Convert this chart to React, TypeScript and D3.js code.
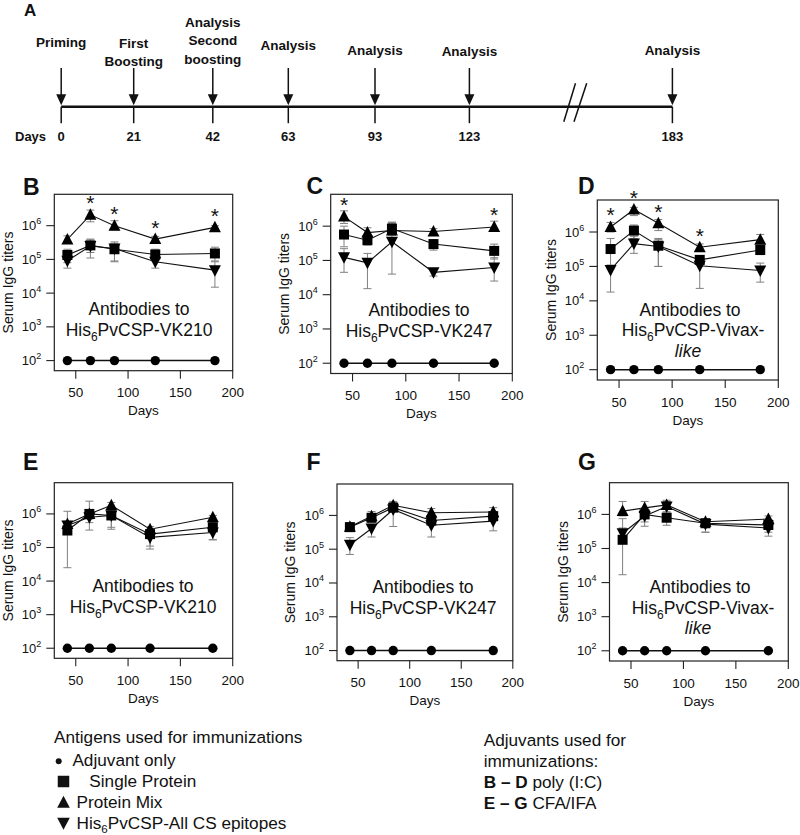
import React from "react";
import * as d3 from "d3";

const FONT = "'Liberation Sans', Arial, Helvetica, sans-serif";

// ---------- Panel A: immunization timeline ----------
const timelineDays = [0, 21, 42, 63, 93, 123, 183];
const timelineLabels = [
  ["Priming"],
  ["First", "Boosting"],
  ["Analysis", "Second", "boosting"],
  ["Analysis"],
  ["Analysis"],
  ["Analysis"],
  ["Analysis"],
];
// layout of the (broken) time axis
const timelineX = [61.2, 133.7, 212.8, 288.3, 375, 469.4, 672.4];
const timelineLabelY = [47, 47.5, 26.5, 50, 54.5, 56, 54.5];

// ---------- Panels B-G ----------
const daysBD = [42, 64, 87, 126, 183];
const daysEG = [42, 63, 84, 121, 181];
const xTickValues = [50, 100, 150, 200];
const yTickExponents = [2, 3, 4, 5, 6];
const adjuvantOnly = [100, 100, 100, 100, 100];

// B  (poly I:C, VK210)
const B_mix = [3.9e5, 2.1e6, 1.0e6, 4.0e5, 8.9e5];
const B_mix_lo = [3.0e5, 1.3e6, 7.5e5, 3.3e5, 8.0e5];
const B_mix_hi = [5.0e5, 2.9e6, 1.4e6, 4.8e5, 1.0e6];
const B_single = [1.35e5, 2.6e5, 2.0e5, 1.4e5, 1.5e5];
const B_single_lo = [8.0e4, 1.6e5, 8.5e4, 9.0e4, 9.0e4];
const B_single_hi = [2.0e5, 4.0e5, 3.3e5, 2.0e5, 2.3e5];
const B_all = [9.1e4, 2.5e5, 2.1e5, 8.5e4, 4.8e4];
const B_all_lo = [5.5e4, 1.1e5, 9.0e4, 5.5e4, 1.5e4];
const B_all_hi = [1.4e5, 3.8e5, 3.0e5, 1.2e5, 8.5e4];
const B_stars = [1, 2, 3, 4];

// C  (poly I:C, VK247)
const C_mix = [1.9e6, 6.5e5, 7.5e5, 7.0e5, 9.5e5];
const C_mix_lo = [1.2e6, 5.0e5, 5.5e5, 5.5e5, 7.0e5];
const C_mix_hi = [2.8e6, 9.0e5, 1.2e6, 8.5e5, 1.4e6];
const C_single = [5.7e5, 3.9e5, 8.5e5, 3.0e5, 1.9e5];
const C_single_lo = [2.5e5, 2.8e5, 5.5e5, 2.0e5, 1.1e5];
const C_single_hi = [1.0e6, 5.5e5, 1.3e6, 4.0e5, 3.0e5];
const C_all = [1.23e5, 8.5e4, 3.5e5, 4.5e4, 6.2e4];
const C_all_lo = [4.5e4, 1.5e4, 4.0e4, 3.5e4, 2.5e4];
const C_all_hi = [2.2e5, 1.6e5, 1.3e6, 5.5e4, 1.2e5];
const C_stars = [0, 4];

// D  (poly I:C, Vivax-like)
const D_mix = [1.4e6, 4.5e6, 1.8e6, 3.6e5, 6.0e5];
const D_mix_lo = [1.0e6, 3.0e6, 1.1e6, 2.8e5, 4.5e5];
const D_mix_hi = [1.9e6, 5.2e6, 2.3e6, 4.5e5, 8.5e5];
const D_single = [3.2e5, 1.1e6, 4.0e5, 1.55e5, 3.0e5];
const D_single_lo = [1.0e5, 6.5e5, 1.0e5, 1.1e5, 2.2e5];
const D_single_hi = [6.5e5, 1.6e6, 6.5e5, 2.0e5, 4.0e5];
const D_all = [7.9e4, 4.6e5, 3.8e5, 1.05e5, 7.6e4];
const D_all_lo = [1.8e4, 2.4e5, 1.0e5, 2.3e4, 3.5e4];
const D_all_hi = [1.1e5, 7.5e5, 6.0e5, 1.6e5, 1.25e5];
const D_stars = [0, 1, 2, 3];

// E  (CFA/IFA, VK210)
const E_mix = [5.0e5, 1.0e6, 1.8e6, 3.5e5, 8.0e5];
const E_mix_lo = [4.0e5, 7.0e5, 1.2e6, 2.8e5, 6.5e5];
const E_mix_hi = [6.0e5, 1.3e6, 2.2e6, 4.2e5, 9.0e5];
const E_single = [3.2e5, 1.0e6, 9.0e5, 2.5e5, 4.0e5];
const E_single_lo = [2.5e4, 3.3e5, 3.5e5, 9.0e4, 1.7e5];
const E_single_hi = [1.2e6, 2.4e6, 1.4e6, 3.5e5, 5.5e5];
const E_all = [4.5e5, 8.0e5, 9.0e5, 2.0e5, 2.8e5];
const E_all_lo = [3.0e5, 5.5e5, 4.0e5, 1.1e5, 1.7e5];
const E_all_hi = [6.0e5, 1.1e6, 1.2e6, 2.8e5, 3.5e5];
const E_stars: number[] = [];

// F  (CFA/IFA, VK247)
const F_mix = [4.6e5, 9.5e5, 2.0e6, 1.2e6, 1.26e6];
const F_mix_lo = [3.5e5, 7.0e5, 1.5e6, 9.0e5, 1.0e6];
const F_mix_hi = [6.0e5, 1.3e6, 2.6e6, 1.6e6, 1.7e6];
const F_single = [4.5e5, 8.5e5, 1.7e6, 7.1e5, 9.5e5];
const F_single_lo = [3.5e5, 6.5e5, 1.3e6, 5.0e5, 7.0e5];
const F_single_hi = [6.0e5, 1.1e6, 2.2e6, 1.0e6, 1.3e6];
const F_all = [1.35e5, 4.1e5, 1.5e6, 5.1e5, 6.8e5];
const F_all_lo = [7.0e4, 2.3e5, 4.7e5, 2.3e5, 3.5e5];
const F_all_hi = [2.2e5, 5.5e5, 2.4e6, 7.0e5, 9.0e5];
const F_stars: number[] = [];

// G  (CFA/IFA, Vivax-like)
const G_mix = [1.25e6, 1.55e6, 1.9e6, 6.1e5, 7.3e5];
const G_mix_lo = [9.0e5, 1.1e6, 1.4e6, 4.5e5, 5.0e5];
const G_mix_hi = [2.4e6, 2.4e6, 2.6e6, 7.5e5, 9.0e5];
const G_single = [1.8e5, 1.0e6, 8.0e5, 5.5e5, 4.9e5];
const G_single_lo = [1.7e4, 6.0e5, 4.8e5, 3.0e5, 3.0e5];
const G_single_hi = [7.5e5, 1.5e6, 1.1e6, 7.0e5, 7.0e5];
const G_all = [2.8e5, 9.0e5, 1.7e6, 5.2e5, 4.0e5];
const G_all_lo = [1.5e5, 4.5e5, 1.2e6, 3.0e5, 2.3e5];
const G_all_hi = [4.0e5, 1.3e6, 2.4e6, 7.0e5, 5.5e5];
const G_stars: number[] = [];

// legend texts
const antigenLegend = ["Adjuvant only", "Single Protein", "Protein Mix", "All CS epitopes"];

type Series = { v: number[]; lo: number[]; hi: number[] };
type Layout = {
  x0: number; x1: number; y0: number; y1: number;
  lx: number; ly: number[];
};
type PanelDef = {
  id: string; days: number[]; antigen: string; like: boolean;
  mix: Series; single: Series; all: Series; stars: number[]; L: Layout;
};

const panels: PanelDef[] = [
  { id: "B", days: daysBD, antigen: "VK210", like: false, stars: B_stars,
    mix: { v: B_mix, lo: B_mix_lo, hi: B_mix_hi },
    single: { v: B_single, lo: B_single_lo, hi: B_single_hi },
    all: { v: B_all, lo: B_all_lo, hi: B_all_hi },
    L: { x0: 54.3, x1: 232.7, y0: 194.3, y1: 370.7, lx: 139, ly: [315, 336] } },
  { id: "C", days: daysBD, antigen: "VK247", like: false, stars: C_stars,
    mix: { v: C_mix, lo: C_mix_lo, hi: C_mix_hi },
    single: { v: C_single, lo: C_single_lo, hi: C_single_hi },
    all: { v: C_all, lo: C_all_lo, hi: C_all_hi },
    L: { x0: 330.7, x1: 512.3, y0: 194.3, y1: 373.5, lx: 419, ly: [316, 336.5] } },
  { id: "D", days: daysBD, antigen: "Vivax-", like: true, stars: D_stars,
    mix: { v: D_mix, lo: D_mix_lo, hi: D_mix_hi },
    single: { v: D_single, lo: D_single_lo, hi: D_single_hi },
    all: { v: D_all, lo: D_all_lo, hi: D_all_hi },
    L: { x0: 597.3, x1: 778.3, y0: 200, y1: 380, lx: 690, ly: [316.3, 336.3, 356.5] } },
  { id: "E", days: daysEG, antigen: "VK210", like: false, stars: E_stars,
    mix: { v: E_mix, lo: E_mix_lo, hi: E_mix_hi },
    single: { v: E_single, lo: E_single_lo, hi: E_single_hi },
    all: { v: E_all, lo: E_all_lo, hi: E_all_hi },
    L: { x0: 54.3, x1: 232.7, y0: 482.7, y1: 658.3, lx: 143, ly: [592.3, 613] } },
  { id: "F", days: daysEG, antigen: "VK247", like: false, stars: F_stars,
    mix: { v: F_mix, lo: F_mix_lo, hi: F_mix_hi },
    single: { v: F_single, lo: F_single_lo, hi: F_single_hi },
    all: { v: F_all, lo: F_all_lo, hi: F_all_hi },
    L: { x0: 337, x1: 512.8, y0: 484, y1: 660.7, lx: 423, ly: [593, 613.5] } },
  { id: "G", days: daysEG, antigen: "Vivax-", like: true, stars: G_stars,
    mix: { v: G_mix, lo: G_mix_lo, hi: G_mix_hi },
    single: { v: G_single, lo: G_single_lo, hi: G_single_hi },
    all: { v: G_all, lo: G_all_lo, hi: G_all_hi },
    L: { x0: 609.5, x1: 788.3, y0: 482.7, y1: 661, lx: 700, ly: [593, 613.5, 634] } },
];

const letterPos: Record<string, [number, number]> = {
  B: [23, 195], C: [306.5, 193.5], D: [578, 194],
  E: [23, 470], F: [306.5, 470], G: [578, 470],
};

function markerPath(kind: string, cx: number, cy: number, s = 1) {
  if (kind === "tri")
    return `M${cx - 6 * s},${cy + 5 * s}L${cx + 6 * s},${cy + 5 * s}L${cx},${cy - 6.5 * s}Z`;
  if (kind === "down")
    return `M${cx - 6 * s},${cy - 5 * s}L${cx + 6 * s},${cy - 5 * s}L${cx},${cy + 6.5 * s}Z`;
  return `M${cx - 5 * s},${cy - 5 * s}h${10 * s}v${10 * s}h${-10 * s}Z`;
}

function AntigenName({ x, y, name }: { x: number; y: number; name: string }) {
  return (
    <text x={x} y={y} fontSize={17.5} textAnchor="middle" fill="#111">
      His<tspan fontSize={12} dy={5}>6</tspan>
      <tspan dy={-5}>PvCSP-{name}</tspan>
    </text>
  );
}

function Panel({ p }: { p: PanelDef }) {
  const L = p.L;
  const x = d3.scaleLinear().domain([29.5, 200]).range([L.x0, L.x1]);
  const y = d3.scaleLog().domain([10 ** 1.7, 10 ** 6.93]).range([L.y1, L.y0]);
  const line = d3
    .line<number>()
    .x((_, i) => x(p.days[i]))
    .y((d) => y(d));
  const series: [string, Series][] = [
    ["sq", p.single],
    ["tri", p.mix],
    ["down", p.all],
  ];
  const cx = (L.x0 + L.x1) / 2;
  const cy = (L.y0 + L.y1) / 2;
  const [lx, lyy] = letterPos[p.id];
  return (
    <g>
      <text x={lx} y={lyy} fontSize={23} fontWeight="bold" fill="#111">{p.id}</text>
      {/* frame */}
      <rect x={L.x0} y={L.y0} width={L.x1 - L.x0} height={L.y1 - L.y0} fill="none" stroke="#222" strokeWidth={1.2} />
      {/* y ticks */}
      {yTickExponents.map((e) => (
        <g key={e}>
          <line x1={L.x0 - 8} x2={L.x0} y1={y(10 ** e)} y2={y(10 ** e)} stroke="#222" strokeWidth={1.1} />
          <text x={L.x0 - 13} y={y(10 ** e) + 4.5} fontSize={13} textAnchor="end" fill="#111">
            10<tspan fontSize={9} dy={-6}>{e}</tspan>
          </text>
        </g>
      ))}
      {/* x ticks */}
      {xTickValues.map((t) => (
        <g key={t}>
          <line x1={x(t)} x2={x(t)} y1={L.y1} y2={L.y1 + 8} stroke="#222" strokeWidth={1.1} />
          <text x={x(t)} y={L.y1 + 26.5} fontSize={13.5} textAnchor="middle" fill="#111">{t}</text>
        </g>
      ))}
      <text x={cx} y={L.y1 + 44.5} fontSize={13.5} textAnchor="middle" fill="#111">Days</text>
      <text transform={`translate(${L.x0 - 41.8},${cy}) rotate(-90)`} fontSize={14} textAnchor="middle" fill="#111">
        Serum IgG titers
      </text>
      {/* label */}
      <text x={L.lx} y={L.ly[0]} fontSize={17.5} textAnchor="middle" fill="#111">Antibodies to</text>
      <AntigenName x={L.lx + (p.like ? 3 : 0)} y={L.ly[1]} name={p.antigen} />
      {p.like && (
        <text x={L.lx - 2} y={L.ly[2]} fontSize={17.5} fontStyle="italic" textAnchor="middle" fill="#111">like</text>
      )}
      {/* adjuvant only */}
      <path d={line(adjuvantOnly) || ""} fill="none" stroke="#111" strokeWidth={1.5} />
      {adjuvantOnly.map((v, i) => (
        <circle key={i} cx={x(p.days[i])} cy={y(v)} r={4.7} fill="#000" />
      ))}
      {/* lines */}
      {series.map(([k, s]) => (
        <path key={k} d={line(s.v) || ""} fill="none" stroke="#111" strokeWidth={1.1} />
      ))}
      {/* error bars */}
      {series.map(([k, s]) =>
        s.v.map((v, i) => {
          const xx = x(p.days[i]);
          return (
            <g key={k + i} stroke="#808080" strokeWidth={1}>
              <line x1={xx} x2={xx} y1={y(s.lo[i])} y2={y(s.hi[i])} />
              <line x1={xx - 4} x2={xx + 4} y1={y(s.lo[i])} y2={y(s.lo[i])} />
              <line x1={xx - 4} x2={xx + 4} y1={y(s.hi[i])} y2={y(s.hi[i])} />
            </g>
          );
        })
      )}
      {/* markers */}
      {series.map(([k, s]) =>
        s.v.map((v, i) => <path key={k + "m" + i} d={markerPath(k, x(p.days[i]), y(v))} fill="#000" />)
      )}
      {/* significance stars */}
      {p.stars.map((i) => {
        const top = Math.min(y(p.mix.hi[i]), y(p.mix.v[i]) - 6);
        return (
          <text key={"s" + i} x={x(p.days[i])} y={top + 1.5} fontSize={21} textAnchor="middle" fill="#111">*</text>
        );
      })}
    </g>
  );
}

function Timeline() {
  const tx = d3.scaleLinear().domain(timelineDays).range(timelineX);
  const lineY = 106.7;
  const first = tx(timelineDays[0]);
  const last = tx(timelineDays[timelineDays.length - 1]);
  return (
    <g fill="#111">
      <text x={24} y={16} fontSize={17} fontWeight="bold">A</text>
      <line x1={first} x2={last} y1={lineY} y2={lineY} stroke="#111" strokeWidth={2.6} />
      {timelineDays.map((d, i) => {
        const xx = tx(d);
        const tip = lineY - 1.5;
        return (
          <g key={d}>
            <line x1={xx} x2={xx} y1={lineY} y2={lineY + 16.5} stroke="#111" strokeWidth={1.5} />
            <line x1={xx} x2={xx} y1={68} y2={tip - 10} stroke="#111" strokeWidth={1.5} />
            <path d={`M${xx - 5},${tip - 11}L${xx + 5},${tip - 11}L${xx},${tip}Z`} fill="#111" />
            {timelineLabels[i].map((t, j) => (
              <text key={j} x={xx} y={timelineLabelY[i] + j * 18.5} fontSize={13.5} fontWeight="bold" textAnchor="middle">
                {t}
              </text>
            ))}
            <text x={xx} y={141.4} fontSize={13} fontWeight="bold" textAnchor="middle">{d}</text>
          </g>
        );
      })}
      <text x={15} y={141.4} fontSize={13} fontWeight="bold">Days</text>
      {/* axis break */}
      <line x1={563.8} y1={121.7} x2={575.5} y2={83.3} stroke="#111" strokeWidth={1.5} />
      <line x1={574} y1={121.7} x2={586.7} y2={83.3} stroke="#111" strokeWidth={1.5} />
    </g>
  );
}

function Legend() {
  const fs = 17.2;
  const rows = [766, 787, 807.5, 829];
  return (
    <g fill="#111" fontSize={fs}>
      <text x={54} y={743}>Antigens used for immunizations</text>
      <circle cx={58.7} cy={rows[0] - 4.8} r={3} fill="#111" />
      <text x={72.4} y={rows[0]}>{antigenLegend[0]}</text>
      <path d={markerPath("sq", 63.5, rows[1] - 5.5, 1.15)} fill="#111" />
      <text x={89.3} y={rows[1]}>{antigenLegend[1]}</text>
      <path d={markerPath("tri", 63.5, rows[2] - 5, 1.05)} fill="#111" />
      <text x={76.5} y={rows[2]}>{antigenLegend[2]}</text>
      <path d={markerPath("down", 63.5, rows[3] - 6, 1.05)} fill="#111" />
      <text x={76.5} y={rows[3]}>
        His<tspan fontSize={11.5} dy={4}>6</tspan>
        <tspan dy={-4}>PvCSP-{antigenLegend[3]}</tspan>
      </text>

      <text x={483.7} y={746}>Adjuvants used for</text>
      <text x={483.7} y={767}>immunizations:</text>
      <text x={483.7} y={788}>
        <tspan fontWeight="bold">B – D</tspan> poly (I:C)
      </text>
      <text x={483.7} y={808.5}>
        <tspan fontWeight="bold">E – G</tspan> CFA/IFA
      </text>
    </g>
  );
}

export default function App() {
  return (
    <svg
      width={800}
      height={835}
      viewBox="0 0 800 835"
      style={{ position: "absolute", left: 0, top: 0, background: "#fff" }}
      fontFamily={FONT}
    >
      <rect width={800} height={835} fill="#fff" />
      <Timeline />
      {panels.map((p) => (
        <Panel key={p.id} p={p} />
      ))}
      <Legend />
    </svg>
  );
}
